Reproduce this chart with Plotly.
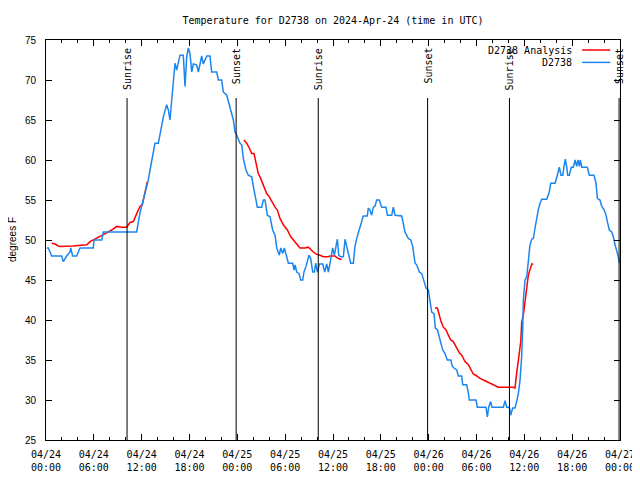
import pandas as pd
import plotly.graph_objects as go

START = pd.Timestamp("2024-04-24 00:00")

# Observed temperatures (hours since 2024-04-24 00:00 UTC, degrees F)
obs_hours = [0.10, 0.29, 0.71, 1.96, 2.17, 2.59, 3.01, 3.10, 3.34, 3.85, 4.26, 5.94, 6.02, 7.00, 7.19,
             11.37, 11.79, 12.21, 12.83, 13.05, 13.26, 13.67, 14.09, 14.30, 14.72, 15.14, 15.35, 15.55,
             15.77, 15.97, 16.18, 16.39, 16.60, 16.81, 17.22, 17.44, 17.65, 17.85, 18.06, 18.28, 18.48,
             18.90, 19.11, 19.53, 19.73, 20.16, 20.57, 20.78, 21.41, 21.62, 22.04, 22.24, 22.67, 23.08,
             23.50, 23.71, 23.92, 24.34, 24.55, 24.75, 25.09, 25.38, 25.80, 26.01, 26.34, 26.51, 27.05,
             27.26, 27.47, 27.76, 28.10, 28.43, 28.73, 28.94, 29.27, 29.44, 29.69, 29.90, 30.19, 30.40,
             30.95, 31.11, 31.24, 31.45, 31.74, 31.95, 32.20, 32.36, 32.61, 32.78, 32.99, 33.20, 33.46,
             33.66, 33.83, 34.04, 34.29, 34.71, 34.96, 35.21, 35.42, 35.63, 35.84, 35.96, 36.17, 36.38,
             36.55, 36.72, 36.97, 37.30, 37.51, 37.72, 37.93, 38.22, 38.55, 38.76, 38.98, 39.30, 39.60,
             39.80, 40.30, 40.43, 40.64, 40.85, 41.06, 41.27, 41.48, 41.81, 42.11, 42.65, 42.82, 43.37,
             43.57, 43.78, 44.62, 44.82, 45.03, 45.45, 45.75, 46.00, 46.29, 46.50, 46.83, 47.13, 47.33,
             47.67, 47.96, 48.17, 48.38, 48.67, 48.84, 49.09, 49.34, 49.51, 49.76, 50.05, 50.34, 50.77,
             50.97, 51.18, 51.52, 51.72, 52.14, 52.27, 52.77, 52.98, 53.10, 53.94, 54.10, 55.19, 55.36,
             55.53, 55.78, 55.95, 57.37, 57.58, 57.79, 58.12, 58.29, 58.54, 58.83, 59.04, 59.25, 59.46,
             59.67, 59.80, 59.88, 60.09, 60.30, 60.50, 60.71, 60.93, 61.13, 61.34, 61.55, 61.75, 61.97,
             62.18, 62.81, 63.13, 63.31, 63.85, 64.14, 64.39, 64.60, 64.82, 64.98, 65.14, 65.32, 65.44,
             65.64, 65.89, 66.15, 66.36, 66.57, 66.73, 66.90, 67.02, 67.20, 67.90, 68.15, 68.74, 68.99,
             69.16, 69.49, 69.71, 70.00, 70.25, 70.41, 70.66, 70.96, 71.16, 71.38, 71.59, 71.79, 71.92]
obs_temps = [49.0, 49.0, 48.0, 48.0, 47.3, 48.0, 48.5, 49.0, 48.0, 48.0, 49.0, 49.0, 50.0, 50.0, 51.0,
             51.0, 53.4, 55.0, 57.5, 58.75, 60.0, 62.1, 62.1, 63.1, 65.4, 66.9, 66.25, 65.0,
             67.5, 70.0, 72.1, 71.25, 72.1, 73.1, 73.1, 69.2, 72.9, 74.0, 73.3, 71.0, 72.0,
             71.9, 71.0, 73.0, 72.0, 73.0, 73.0, 71.0, 71.0, 70.0, 70.0, 68.5, 68.1, 66.7,
             65.0, 63.5, 63.1, 62.1, 61.9, 60.2, 58.75, 58.1, 57.9, 56.7, 55.0, 54.1, 54.1,
             55.0, 55.0, 53.1, 52.9, 51.25, 50.6, 49.0, 48.1, 49.0, 48.3, 49.0, 47.9, 47.1,
             47.1, 46.25, 46.9, 46.0, 45.8, 45.0, 45.0, 46.0, 46.7, 47.5, 48.1, 47.7, 46.0,
             46.0, 47.1, 46.0, 47.0, 47.0, 46.0, 47.0, 46.0, 47.1, 48.3, 49.0, 48.1, 49.0,
             50.1, 48.1, 47.9, 47.9, 50.1, 49.2, 48.3, 47.1, 47.1, 49.2, 50.2, 51.25, 52.3,
             53.0, 53.0, 54.0, 53.75, 53.1, 54.1, 54.25, 55.0, 55.0, 54.1, 54.1, 53.1, 53.1,
             54.1, 53.1, 53.0, 52.1, 51.0, 50.2, 50.0, 49.2, 47.1, 46.9, 46.0, 45.8, 45.0,
             44.0, 43.75, 42.5, 41.0, 40.8, 39.0, 38.8, 37.7, 37.1, 36.25, 35.8, 35.0, 35.0,
             34.2, 34.0, 33.75, 33.0, 33.0, 31.9, 31.9, 30.9, 30.0, 30.0, 29.1, 29.1, 27.9,
             29.1, 29.8, 29.1, 29.1, 29.9, 29.1, 29.1, 28.1, 29.0, 29.0, 29.8, 30.8, 32.5,
             35.5, 39.0, 42.6, 45.0, 45.4, 47.3, 49.4, 50.1, 50.2, 51.5, 52.9, 53.75, 54.6,
             55.1, 55.1, 56.0, 57.1, 57.1, 58.1, 59.1, 58.1, 58.1, 59.2, 60.1, 59.1, 58.1,
             58.1, 59.1, 59.1, 60.0, 59.2, 60.0, 59.2, 60.0, 59.1, 59.1, 58.1, 58.1, 57.1,
             55.2, 55.0, 54.2, 53.8, 53.1, 52.3, 51.25, 51.0, 50.4, 49.4, 48.75, 47.9, 47.1]

# Analysis temperatures, three segments separated by gaps (None)
ana_hours = [0.71, 1.13, 1.54, 1.76, 3.42, 5.11, 5.52, 5.93, 6.56, 7.19, 7.61, 8.24, 8.87, 9.50,
             10.12, 10.54, 10.95, 11.38, 11.79, 12.08, 12.42, 12.71,
             18.0,
             24.84, 25.17, 25.50, 25.80, 26.09, 26.34, 26.63, 26.93, 27.26, 27.68, 28.01, 28.31,
             28.73, 29.02, 29.35, 29.77, 30.27, 30.70, 31.24, 31.86, 32.49, 32.91, 33.53, 33.96,
             34.37, 34.79, 35.42, 35.63, 36.25, 36.47, 36.88, 37.09,
             43.0,
             48.80, 49.09, 49.34, 49.55, 49.84, 50.18, 50.47, 50.77, 51.09, 51.43, 51.85, 52.14,
             52.56, 52.98, 53.27, 53.60, 54.03, 54.44, 55.07, 55.70, 56.32, 56.74, 58.62, 58.83,
             58.96, 59.12, 59.25, 59.46, 59.55, 59.67, 59.87, 60.09, 60.30, 60.50, 60.71, 60.93, 61.13]
ana_temps = [49.6, 49.5, 49.25, 49.2, 49.25, 49.4, 49.8, 50.0, 50.3, 50.6, 50.9, 51.25, 51.7, 51.6,
             51.6, 52.2, 52.3, 53.3, 54.2, 54.4, 55.8, 57.3,
             None,
             62.5, 62.1, 61.5, 60.8, 60.8, 59.6, 58.3, 57.7, 56.9, 55.8, 55.4, 54.8,
             54.1, 53.75, 52.7, 51.9, 51.25, 50.4, 49.8, 49.0, 49.0, 49.1, 48.5, 48.2,
             48.1, 47.9, 47.9, 48.0, 48.0, 47.8, 47.6, 47.6,
             None,
             41.5, 41.5, 40.6, 39.8, 39.1, 38.75, 38.1, 37.5, 37.3, 36.6, 35.9, 35.6,
             34.8, 34.4, 33.8, 33.25, 33.0, 32.7, 32.4, 32.1, 31.75, 31.6, 31.6, 31.5,
             32.7, 34.0, 35.0, 37.1, 37.3, 39.7, 40.6, 42.3, 44.3, 45.6, 46.3, 47.0, 47.0]

# Sun events (UTC)
sun_times = ["2024-04-24 10:10", "2024-04-24 23:51", "2024-04-25 10:09",
             "2024-04-25 23:52", "2024-04-26 10:08", "2024-04-26 23:53"]
sun_labels = ["Sunrise", "Sunset", "Sunrise", "Sunset", "Sunrise", "Sunset"]

series_names = ["D2738 Analysis", "D2738"]
series_colors = ["#ff0000", "#1c86ee"]

obs_x = START + pd.to_timedelta(obs_hours, unit="h")
ana_x = START + pd.to_timedelta(ana_hours, unit="h")

MONO = "DejaVu Sans Mono"
SANS = "Liberation Sans"

fig = go.Figure()
fig.add_trace(go.Scatter(x=ana_x, y=ana_temps, mode="lines", name=series_names[0],
                         line=dict(color=series_colors[0], width=1.5), connectgaps=False,
                         showlegend=False))
fig.add_trace(go.Scatter(x=obs_x, y=obs_temps, mode="lines", name=series_names[1],
                         line=dict(color=series_colors[1], width=1.5), showlegend=False))

for t, lab in zip(sun_times, sun_labels):
    fig.add_shape(type="line", xref="x", yref="y", x0=t, x1=t, y0=25, y1=67.75,
                  line=dict(color="black", width=1))
    fig.add_annotation(x=t, xref="x", y=0.985, yref="paper", text=lab, textangle=-90,
                       showarrow=False, xanchor="center", yanchor="top",
                       font=dict(family=MONO, size=10, color="black"))

# gnuplot-style legend: text right-aligned, sample line to the right
leg_y = [0.975, 0.944]
for name, col, yy in zip(series_names, series_colors, leg_y):
    fig.add_annotation(x=0.920, xref="paper", y=yy, yref="paper", text=name, showarrow=False,
                       xanchor="right", yanchor="middle",
                       font=dict(family=MONO, size=10, color="black"))
    fig.add_shape(type="line", xref="paper", yref="paper", x0=0.934, x1=0.983, y0=yy, y1=yy,
                  line=dict(color=col, width=1.5))

# y-axis title placed like gnuplot's ylabel
fig.add_annotation(x=-34 / 574, xref="paper", y=0.5, yref="paper", text="degrees F",
                   textangle=-90, showarrow=False, xanchor="center", yanchor="middle",
                   font=dict(family=SANS, size=10, color="black"))

# The page body has an 8px margin, so the figure is drawn 8px smaller and offset
fig.update_layout(
    width=632, height=472,
    margin=dict(l=38, r=20, t=32, b=40, autoexpand=False),
    paper_bgcolor="white", plot_bgcolor="white",
    title=dict(text="Temperature for D2738 on 2024-Apr-24 (time in UTC)", x=(38 + 287) / 632,
               xanchor="center", y=1 - 12 / 472, yanchor="middle", yref="container",
               font=dict(family=MONO, size=10, color="black")),
    showlegend=False,
)
fig.update_xaxes(
    type="date", range=["2024-04-24 00:00", "2024-04-27 00:00"], automargin=False,
    dtick=6 * 3600 * 1000, tick0="2024-04-24 00:00", tickformat="%m/%d<br>%H:%M",
    ticks="inside", ticklen=6, tickcolor="black", mirror="ticks",
    showline=True, linecolor="black", linewidth=1, showgrid=False, zeroline=False,
    minor=dict(dtick=2 * 3600 * 1000, ticks="inside", ticklen=3, tickcolor="black", showgrid=False),
    tickfont=dict(family=MONO, size=10, color="black"), ticklabelstandoff=5,
)
fig.update_yaxes(
    range=[25, 75], dtick=5, tick0=25, automargin=False,
    ticks="inside", ticklen=6, tickcolor="black", mirror="ticks",
    showline=True, linecolor="black", linewidth=1, showgrid=False, zeroline=False,
    tickfont=dict(family=SANS, size=10, color="black"), ticklabelstandoff=7,
)

fig.write_html("out.html")
